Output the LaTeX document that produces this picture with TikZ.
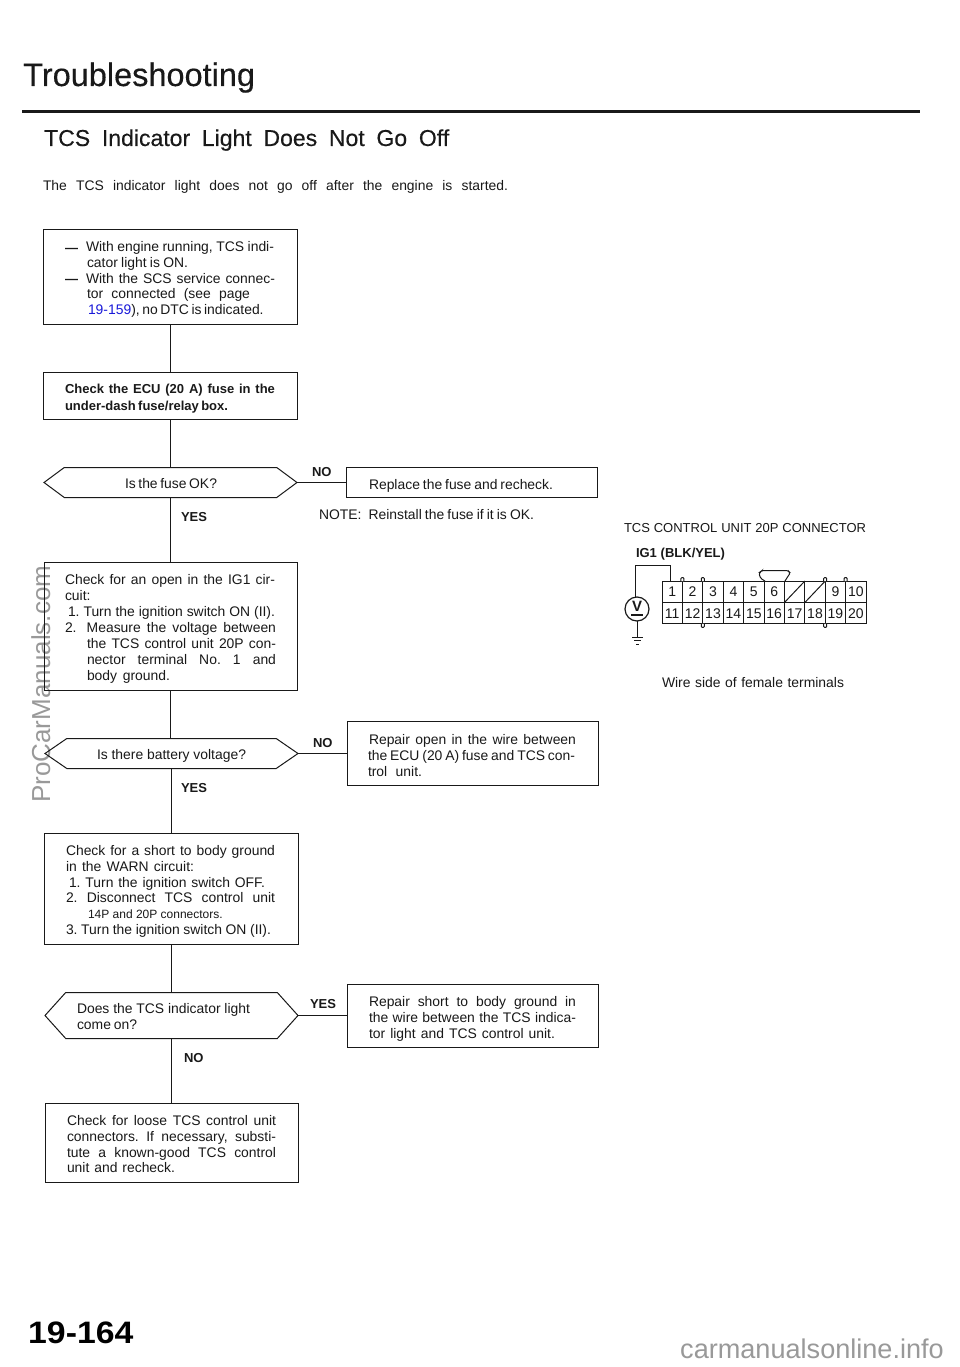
\documentclass[tikz,border=0pt]{standalone}
\usepackage{fontspec}
\setmainfont{Liberation Sans}
\newfontfamily\heavy[FakeBold=0.35]{Liberation Sans}
\usetikzlibrary{shapes.symbols}
\definecolor{ink}{gray}{0.1}
\definecolor{wm}{gray}{0.6}
\definecolor{linkblue}{rgb}{0.1,0.1,0.85}
\newcounter{ln}
\newcommand{\lin}[4]{\stepcounter{ln}\node[txt] (l\theln) at (#1,#3) {\makebox[\dimexpr #2pt-#1pt\relax][s]{#4}};}
\newcommand{\blin}[4]{\stepcounter{ln}\node[btxt] (l\theln) at (#1,#3) {\makebox[\dimexpr #2pt-#1pt\relax][s]{#4}};}
\tikzset{
  txt/.style={anchor=base west,inner sep=0pt,outer sep=0pt,text=ink,font=\fontsize{13.9}{15}\selectfont},
  btxt/.style={anchor=base west,inner sep=0pt,outer sep=0pt,text=ink,font=\fontsize{13}{15}\bfseries\selectfont},
  box/.style={draw=ink,line width=1pt,rectangle,inner sep=0pt,outer sep=0pt},
  dec/.style={draw=ink,line width=1pt,shape=signal,signal to=west and east,inner sep=0pt,outer sep=0pt},
  link/.style={draw=ink,line width=1pt},
  cell/.style={draw=ink,line width=1pt,rectangle,inner sep=0pt,outer sep=0pt,minimum width=20.4pt,minimum height=21.5pt,text height=10pt,text depth=0pt,font=\fontsize{14}{14}\selectfont,text=ink},
  wire/.style={draw=ink,line width=1pt}
}
\begin{document}
\frenchspacing
\begin{tikzpicture}[x=1pt,y=-1pt]
\useasboundingbox (0,0) rectangle (960,1367);
\fill[white] (0,0) rectangle (960,1367);
% watermarks
\node[anchor=base west,inner sep=0pt,rotate=90,text=wm,font=\fontsize{26}{28}\selectfont] (wm1) at (50,803) {ProCarManuals.com};
\node[anchor=base west,inner sep=0pt,text=wm,font=\fontsize{27.1}{28}\selectfont] (wm2) at (680,1358) {carmanualsonline.info};
% title
\node[anchor=base west,inner sep=0pt,text=ink,font=\fontsize{32.5}{34}\heavy] (title) at (23,86) {Troubleshooting};
\coordinate (ruleL) at (22,112);
\coordinate (ruleR) at (920,112);
\draw[ink,line width=3pt] (ruleL) -- (ruleR);
\node[anchor=base west,inner sep=0pt,text=ink,font=\fontsize{23}{25}\heavy] (sub) at (44,146) {\makebox[405pt][s]{TCS Indicator Light Does Not Go Off}};
\lin{43}{508}{190}{The TCS indicator light does not go off after the engine is started.}
% boxes
\node[box,minimum width=254pt,minimum height=95pt] (b1) at (170.5,277) {};
\node[box,minimum width=254pt,minimum height=47pt] (b2) at (170.5,396) {};
\node[dec,minimum width=253pt,minimum height=30pt,signal pointer angle=73] (d1) at (170.5,482.5) {};
\node[box,minimum width=251pt,minimum height=30pt] (r1) at (472,482.5) {};
\node[box,minimum width=253pt,minimum height=128pt] (b3) at (170.5,626.5) {};
\node[dec,minimum width=253pt,minimum height=30pt,signal pointer angle=69] (d2) at (171.5,753.5) {};
\node[box,minimum width=251pt,minimum height=64pt] (r2) at (473,753.5) {};
\node[box,minimum width=254pt,minimum height=111pt] (b4) at (171.5,889) {};
\node[dec,minimum width=253pt,minimum height=46pt,signal pointer angle=96] (d3) at (171.5,1015.5) {};
\node[box,minimum width=251pt,minimum height=63pt] (r3) at (473,1016) {};
\node[box,minimum width=253pt,minimum height=79pt] (b5) at (171.5,1143) {};
% connectors
\draw[link] (b1.south) -- (b1.south |- b2.north);
\draw[link] (b2.south) -- (b2.south |- d1.north);
\draw[link] (d1.south) -- (d1.south |- b3.north);
\draw[link] (b3.south) -- (b3.south |- d2.north);
\draw[link] (d2.south) -- (d2.south |- b4.north);
\draw[link] (b4.south) -- (b4.south |- d3.north);
\draw[link] (d3.south) -- (d3.south |- b5.north);
\draw[link] (d1.east) -- (d1.east -| r1.west);
\draw[link] (d2.east) -- (d2.east -| r2.west);
\draw[link] (d3.east) -- (d3.east -| r3.west);
% box 1
\blin{65}{79}{252}{—}
\blin{65}{79}{283}{—}
\lin{86}{274}{251}{With engine running, TCS indi-}
\lin{87}{188}{267}{cator light is ON.}
\lin{86}{275}{283}{With the SCS service connec-}
\lin{87}{250}{298}{tor connected (see page}
\lin{88}{263}{314}{\textcolor{linkblue}{19-159}), no DTC is indicated.}
% box 2
\blin{65}{275}{393}{Check the ECU (20 A) fuse in the}
\blin{65}{228}{410}{under-dash fuse/relay box.}
% d1
\lin{125}{217}{488}{Is the fuse OK?}
\blin{312}{333}{476}{NO}
\blin{181}{207}{521}{YES}
\lin{369}{553}{489}{Replace the fuse and recheck.}
\lin{319}{534}{519}{NOTE:\hspace{4pt} Reinstall the fuse if it is OK.}
% box 3
\lin{65}{275}{584}{Check for an open in the IG1 cir-}
\lin{65}{92}{600}{cuit:}
\lin{68}{275}{616}{1. Turn the ignition switch ON (II).}
\lin{65}{276}{632}{2.\hspace{4pt} Measure the voltage between}
\lin{87}{276}{648}{the TCS control unit 20P con-}
\lin{87}{276}{664}{nector terminal No. 1 and}
\lin{87}{170}{680}{body ground.}
% d2
\lin{97}{246}{759}{Is there battery voltage?}
\blin{313}{334}{747}{NO}
\blin{181}{207}{792}{YES}
\lin{369}{576}{744}{Repair open in the wire between}
\lin{368}{575}{760}{the ECU (20 A) fuse and TCS con-}
\lin{368}{422}{776}{trol unit.}
% box 4
\lin{66}{275}{855}{Check for a short to body ground}
\lin{66}{194}{871}{in the WARN circuit:}
\lin{69}{265}{887}{1. Turn the ignition switch OFF.}
\lin{66}{275}{902}{2. Disconnect TCS control unit}
\node[txt,font=\fontsize{12}{14}\selectfont] (smallline) at (88,918) {14P and 20P connectors.};
\lin{66}{271}{934}{3. Turn the ignition switch ON (II).}
% d3
\lin{77}{250}{1013}{Does the TCS indicator light}
\lin{77}{137}{1029}{come on?}
\blin{310}{336}{1008}{YES}
\blin{184}{205}{1062}{NO}
\lin{369}{576}{1006}{Repair short to body ground in}
\lin{369}{576}{1022}{the wire between the TCS indica-}
\lin{369}{555}{1038}{tor light and TCS control unit.}
% box 5
\lin{67}{276}{1125}{Check for loose TCS control unit}
\lin{67}{276}{1141}{connectors. If necessary, substi-}
\lin{67}{276}{1157}{tute a known-good TCS control}
\lin{67}{175}{1172}{unit and recheck.}
% connector diagram
\node[txt,font=\fontsize{13}{15}\selectfont] (contitle) at (624,532) {\makebox[242pt][s]{TCS CONTROL UNIT 20P CONNECTOR}};
\blin{636}{725}{557}{IG1 (BLK/YEL)}
\lin{662}{844}{687}{Wire side of female terminals}
\foreach \i/\t in {1/1,2/2,3/3,4/4,5/5,6/6,7/,8/,9/9,10/10}{
  \node[cell] (c\i) at ({672.2+(\i-1)*20.4},591.8) {\t};
}
\foreach \i in {1,...,10}{
  \pgfmathtruncatemacro{\n}{\i+10}
  \node[cell] (c\n) at ({672.2+(\i-1)*20.4},613.2) {\n};
}
\draw[wire] (c7.south west) -- (c7.north east);
\draw[wire] (c8.south west) -- (c8.north east);
% tabs and latch
\foreach \a in {c1,c2,c8,c9}{
  \draw[wire,fill=white,rounded corners=1pt] (\a.north east) ++(-1.5,0) -- ++(0,-3.5) -- ++(3,0) -- ++(0,3.5);
}
\foreach \a in {c12,c18}{
  \draw[wire,fill=white,rounded corners=1pt] (\a.south east) ++(-1.5,0) -- ++(0,3.5) -- ++(3,0) -- ++(0,-3.5);
}
\draw[wire,rounded corners=1.5pt] (765,581) .. controls (760,579) and (759,575) .. (760,572) -- (762,570.5) -- (788,570.5) -- (790,572.5) .. controls (789,576) and (786,578) .. (785,581);
\node[draw=ink,line width=1.2pt,circle,minimum size=24pt,inner sep=0pt,outer sep=0pt] (vm) at (637,609) {};
\node[inner sep=0pt,text=ink,font=\fontsize{15}{16}\bfseries\selectfont] (vlabel) at (637,606.5) {V};
\coordinate (vbarL) at (631,615);
\coordinate (vbarR) at (643,615);
\draw[wire,line width=1.4pt] (vbarL) -- (vbarR);
\coordinate (wa) at (670,565);
\coordinate (wb) at (635,565);
\draw[wire] (c1.north -| wa) -- (wa) -- (wb) -- (wb |- vm.north);
\coordinate (gnd) at (637,637);
\coordinate (g1l) at (632,637); \coordinate (g1r) at (643,637);
\coordinate (g2l) at (634,640.5); \coordinate (g2r) at (641,640.5);
\coordinate (g3l) at (636,644); \coordinate (g3r) at (639,644);
\draw[wire] (vm.south) -- (gnd);
\draw[wire] (g1l) -- (g1r);
\draw[wire] (g2l) -- (g2r);
\draw[wire] (g3l) -- (g3r);
% page number
\node[anchor=base west,inner sep=0pt,text=black,font=\fontsize{31}{33}\bfseries\selectfont] (pg) at (28,1343) {\scalebox{1.09}[1]{19-164}};
\end{tikzpicture}
\end{document}
